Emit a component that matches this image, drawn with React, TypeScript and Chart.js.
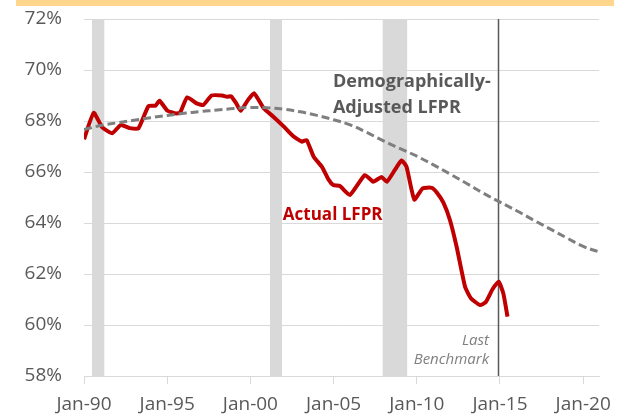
import React, { useEffect, useRef } from 'react';
import { Chart, registerables } from 'chart.js';

Chart.register(...registerables);

// Actual labor force participation rate (%), by fractional year
const actualYears = [
  1990.0, 1990.58, 1991.1, 1991.7, 1992.2, 1992.75, 1993.27, 1993.87, 1994.3, 1994.53,
  1995.02, 1995.5, 1995.77, 1996.2, 1996.77, 1997.17, 1997.67, 1998.3, 1998.6, 1998.85,
  1999.15, 1999.42, 1999.85, 2000.22, 2000.8, 2001.38, 2001.98, 2002.58, 2003.08, 2003.38,
  2003.8, 2004.3, 2004.7, 2004.98, 2005.38, 2005.98, 2006.88, 2007.38, 2007.88, 2008.2,
  2008.68, 2009.08, 2009.38, 2009.85, 2010.35, 2010.9, 2011.2, 2011.6, 2012.0, 2012.4,
  2012.9, 2013.25, 2013.8, 2014.15, 2014.55, 2014.92, 2015.2, 2015.45,
];
const actualValues = [
  67.28, 68.32, 67.75, 67.52, 67.84, 67.72, 67.71, 68.58, 68.6, 68.8,
  68.4, 68.3, 68.32, 68.93, 68.69, 68.63, 69.0, 69.0, 68.95, 68.97,
  68.69, 68.4, 68.82, 69.09, 68.5, 68.17, 67.8, 67.4, 67.19, 67.25,
  66.6, 66.2, 65.7, 65.49, 65.45, 65.1, 65.88, 65.62, 65.8, 65.62,
  66.08, 66.45, 66.21, 64.92, 65.36, 65.38, 65.2, 64.8, 64.1, 63.05,
  61.5, 61.05, 60.78, 60.9, 61.4, 61.7, 61.24, 60.33,
];

// Demographically-adjusted LFPR (%)
const adjustedYears = [
  1990, 1991, 1992, 1993, 1994, 1995, 1996, 1997, 1998, 1999, 2000, 2001, 2002, 2003, 2004, 2005,
  2006, 2007, 2008, 2009, 2010, 2011, 2012, 2013, 2014, 2015, 2016, 2017, 2018, 2019, 2020, 2020.95,
];
const adjustedValues = [
  67.67, 67.82, 67.93, 68.03, 68.13, 68.22, 68.3, 68.37, 68.43, 68.49, 68.53, 68.52, 68.46, 68.36,
  68.22, 68.05, 67.85, 67.55, 67.22, 66.92, 66.62, 66.28, 65.92, 65.55, 65.17, 64.82, 64.48, 64.12,
  63.77, 63.42, 63.08, 62.87,
];

const xTickYears = [1990, 1995, 2000, 2005, 2010, 2015, 2020];
const xTickLabels = ['Jan-90', 'Jan-95', 'Jan-00', 'Jan-05', 'Jan-10', 'Jan-15', 'Jan-20'];
const yMin = 58;
const yMax = 72;
const yStep = 2;
const xMin = 1990;
const xMax = 2020.95;

const recessionStart = [1990.48, 2001.18, 2007.95];
const recessionEnd = [1991.22, 2001.9, 2009.42];
const benchmarkYear = 2014.88;

const FONT = '"Open Sans", "Noto Sans", sans-serif';

const decorPlugin = {
  id: 'decor',
  beforeDraw(chart: any) {
    const ctx = chart.ctx;
    ctx.save();
    ctx.fillStyle = '#FFD68C';
    ctx.fillRect(16, 0, 598, 6);
    ctx.restore();
  },
  beforeDatasetsDraw(chart: any) {
    const ctx = chart.ctx;
    const x = chart.scales.x;
    const area = chart.chartArea;
    ctx.save();
    ctx.fillStyle = '#D9D9D9';
    for (let i = 0; i < recessionStart.length; i++) {
      const a = x.getPixelForValue(recessionStart[i]);
      const b = x.getPixelForValue(recessionEnd[i]);
      ctx.fillRect(a, area.top, b - a, area.bottom - area.top);
    }
    const bx = Math.round(x.getPixelForValue(benchmarkYear)) + 0.5;
    ctx.strokeStyle = '#595959';
    ctx.lineWidth = 1.5;
    ctx.beginPath();
    ctx.moveTo(bx, area.top);
    ctx.lineTo(bx, area.bottom);
    ctx.stroke();
    ctx.restore();
  },
  afterDatasetsDraw(chart: any) {
    const ctx = chart.ctx;
    const x = chart.scales.x;
    const y = chart.scales.y;
    ctx.save();
    ctx.textBaseline = 'middle';
    ctx.textAlign = 'left';
    ctx.fillStyle = '#595959';
    ctx.font = `bold 18px ${FONT}`;
    const dx = x.getPixelForValue(2004.96);
    ctx.fillText('Demographically-', dx, y.getPixelForValue(69.52));
    ctx.fillText('Adjusted LFPR', dx, y.getPixelForValue(68.52));

    ctx.fillStyle = '#C00000';
    ctx.font = `bold 17px ${FONT}`;
    ctx.fillText('Actual LFPR', x.getPixelForValue(2001.95), y.getPixelForValue(64.32));

    ctx.fillStyle = '#808080';
    ctx.font = `italic 15px ${FONT}`;
    ctx.textAlign = 'right';
    const lx = x.getPixelForValue(benchmarkYear) - 9;
    ctx.fillText('Last', lx, y.getPixelForValue(59.4));
    ctx.fillText('Benchmark', lx, y.getPixelForValue(58.62));
    ctx.restore();
  },
};

export default function App() {
  const canvasRef = useRef<HTMLCanvasElement | null>(null);

  useEffect(() => {
    if (!canvasRef.current) return;
    const chart = new Chart(canvasRef.current, {
      type: 'line',
      data: {
        datasets: [
          {
            label: 'Demographically-Adjusted LFPR',
            data: adjustedYears.map((yr, i) => ({ x: yr, y: adjustedValues[i] })),
            borderColor: '#7F7F7F',
            borderWidth: 3,
            borderDash: [8, 4],
            pointRadius: 0,
            tension: 0.4,
            fill: false,
          },
          {
            label: 'Actual LFPR',
            data: actualYears.map((yr, i) => ({ x: yr, y: actualValues[i] })),
            borderColor: '#C00000',
            borderWidth: 4,
            pointRadius: 0,
            tension: 0.15,
            fill: false,
            borderJoinStyle: 'round',
          },
        ],
      },
      options: {
        animation: false,
        responsive: false,
        devicePixelRatio: 1,
        layout: { padding: { top: 19, right: 30, bottom: 0, left: 0 } },
        plugins: { legend: { display: false }, tooltip: { enabled: false } },
        scales: {
          x: {
            type: 'linear',
            min: xMin,
            max: xMax,
            afterBuildTicks: (s: any) => {
              s.ticks = xTickYears.map((v) => ({ value: v }));
            },
            afterFit: (s: any) => {
              s.height = 38;
            },
            ticks: {
              autoSkip: false,
              maxRotation: 0,
              padding: 9,
              color: '#595959',
              font: { family: FONT, size: 19 },
              callback: (v: any) => xTickLabels[xTickYears.indexOf(Number(v))] ?? '',
            },
            grid: { drawOnChartArea: false, drawTicks: true, tickLength: 8, color: '#D9D9D9' },
            border: { color: '#D9D9D9', width: 1 },
          },
          y: {
            type: 'linear',
            min: yMin,
            max: yMax,
            afterFit: (s: any) => {
              s.width = 84;
            },
            ticks: {
              stepSize: yStep,
              padding: 0,
              color: '#595959',
              font: { family: FONT, size: 19 },
              callback: (v: any) => `${v}%`,
            },
            grid: {
              color: '#D9D9D9',
              drawTicks: true,
              tickLength: 22,
              tickColor: 'rgba(0,0,0,0)',
              lineWidth: 1,
            },
            border: { display: false },
          },
        },
      },
      plugins: [decorPlugin],
    });
    return () => chart.destroy();
  }, []);

  return (
    <div style={{ position: 'fixed', left: 0, top: 0, width: 629, height: 414, background: '#fff' }}>
      <canvas ref={canvasRef} width={629} height={414} style={{ display: 'block' }} />
    </div>
  );
}
